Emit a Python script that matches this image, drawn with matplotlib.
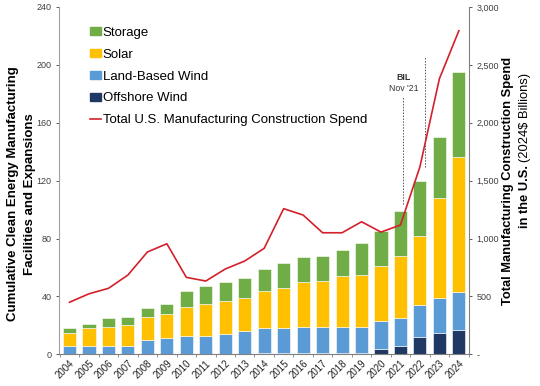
import matplotlib
matplotlib.use("Agg")
import matplotlib.pyplot as plt
import numpy as np
from matplotlib.patches import Patch
from matplotlib.lines import Line2D
from matplotlib.ticker import FuncFormatter

plt.rcParams['font.family'] = ['Liberation Sans', 'DejaVu Sans']

years = [str(y) for y in range(2004, 2025)]
offshore = [0, 0, 0, 0, 0, 0, 0, 0, 0, 0, 1, 1, 1, 1, 1, 1, 4, 6, 12, 15, 17]
land = [6, 6, 6, 6, 10, 11, 13, 13, 14, 16, 17, 17, 18, 18, 18, 18, 19, 19, 22, 24, 26]
solar = [9, 12, 13, 14, 16, 17, 20, 22, 23, 23, 26, 28, 31, 32, 35, 36, 38, 43, 48, 69, 93]
storage = [3, 3, 6, 6, 6, 7, 11, 12, 13, 14, 15, 17, 17, 17, 18, 22, 24, 31, 38, 42, 59]
spend = [450, 523, 570, 685, 884, 955, 665, 633, 737, 806, 916, 1258, 1203, 1050, 1050,
         1145, 1056, 1117, 1620, 2380, 2795]

left_ticks = [0, 40, 80, 120, 160, 200, 240]
right_ticks = [0, 500, 1000, 1500, 2000, 2500, 3000]

c_off = '#1F3864'
c_land = '#5B9BD5'
c_solar = '#FFC000'
c_stor = '#70AD47'
c_line = '#D4202A'
tick_col = '#404040'

fig = plt.figure(figsize=(5.4, 3.86), dpi=100)
ax = fig.add_axes([0.110, 0.082, 0.7585, 0.900])
x = np.arange(len(years))
w = 0.67
off = np.array(offshore); ld = np.array(land); so = np.array(solar); st = np.array(storage)
ec = 'white'
lw = 0.4
ax.bar(x, off, w, color=c_off, edgecolor=ec, linewidth=lw, zorder=2)
ax.bar(x, ld, w, bottom=off, color=c_land, edgecolor=ec, linewidth=lw, zorder=2)
ax.bar(x, so, w, bottom=off + ld, color=c_solar, edgecolor=ec, linewidth=lw, zorder=2)
ax.bar(x, st, w, bottom=off + ld + so, color=c_stor, edgecolor=ec, linewidth=lw, zorder=2)

ax.set_xlim(-0.52, len(years) - 0.48)
ax.set_ylim(0, 240)
ax.set_yticks(left_ticks)
ax.tick_params(axis='y', labelsize=6.5, colors=tick_col, length=2.5, width=0.6, pad=3)
ax.set_xticks(x)
ax.set_xticklabels(years, rotation=45, ha='right', rotation_mode='anchor', fontsize=7)
ax.tick_params(axis='x', length=0, pad=3, labelcolor='#222222')
ax.set_xticks(np.arange(-0.5, len(years), 1), minor=True)
ax.tick_params(axis='x', which='minor', length=2.5, width=0.6, color='#808080')
ax.spines['top'].set_visible(False)
ax.spines['left'].set_color('#A0A0A0')
ax.spines['bottom'].set_color('#808080')
ax.spines['right'].set_visible(False)

ax2 = ax.twinx()
ax2.plot(x, spend, color=c_line, linewidth=1.2, zorder=3)
ax2.set_ylim(0, 3000)
ax2.set_yticks(right_ticks)
ax2.yaxis.set_major_formatter(FuncFormatter(lambda v, p: '-' if v == 0 else f'{int(v):,}'))
ax2.tick_params(axis='y', labelsize=6.5, colors=tick_col, length=2.5, width=0.6, pad=3)
ax2.spines['top'].set_visible(False)
ax2.spines['left'].set_visible(False)
ax2.spines['bottom'].set_visible(False)
ax2.spines['right'].set_color('#808080')

# event markers
ax2.plot([17.15, 17.15], [1300, 2220], color='#555555', linestyle=(0, (1.5, 1.5)), linewidth=0.7, zorder=1)
ax2.plot([18.25, 18.25], [1620, 2565], color='#555555', linestyle=(0, (1.5, 1.5)), linewidth=0.7, zorder=1)
ax2.text(17.15, 2395, 'BIL', ha='center', va='center', fontsize=6.3, fontweight='bold', color='#333333')
ax2.text(17.15, 2295, "Nov '21", ha='center', va='center', fontsize=6.3, color='#333333')

handles = [Patch(color=c_stor), Patch(color=c_solar), Patch(color=c_land), Patch(color=c_off),
           Line2D([0], [0], color=c_line, linewidth=1.2)]
labels = ['Storage', 'Solar', 'Land-Based Wind', 'Offshore Wind', 'Total U.S. Manufacturing Construction Spend']
ax2.legend(handles, labels, loc='upper left', bbox_to_anchor=(0.075, 0.943), frameon=False,
           fontsize=9.5, handlelength=0.85, handleheight=0.55, handletextpad=0.1,
           labelspacing=0.75, borderaxespad=0, borderpad=0)

fig.text(13.5 / 540, 1 - 194 / 386, 'Cumulative Clean Energy Manufacturing', rotation=90,
         ha='center', va='center', fontsize=9.5, fontweight='bold')
fig.text(30 / 540, 1 - 194 / 386, 'Facilities and Expansions', rotation=90,
         ha='center', va='center', fontsize=9.5, fontweight='bold')
fig.text(508 / 540, 1 - 180.5 / 386, 'Total Manufacturing Construction Spend', rotation=90,
         ha='center', va='center', fontsize=9.3, fontweight='bold')

# second right-label line: bold part + regular part, laid out end to end
renderer = fig.canvas.get_renderer()
ta = fig.text(0, 0, 'in the U.S.', rotation=90, fontsize=9.3, fontweight='bold',
              ha='center', va='center')
tb = fig.text(0, 0, '(2024$ Billions)', rotation=90, fontsize=9.3,
              ha='center', va='center')
ha_ = ta.get_window_extent(renderer).height
hb_ = tb.get_window_extent(renderer).height
gap = 3.0
total = ha_ + gap + hb_
cx = 525
cy = 386 - 150  # pixels from bottom
start = cy - total / 2
ta.set_position((cx / 540, (start + ha_ / 2) / 386))
tb.set_position((cx / 540, (start + ha_ + gap + hb_ / 2) / 386))

fig.savefig('out.png', dpi=100)
